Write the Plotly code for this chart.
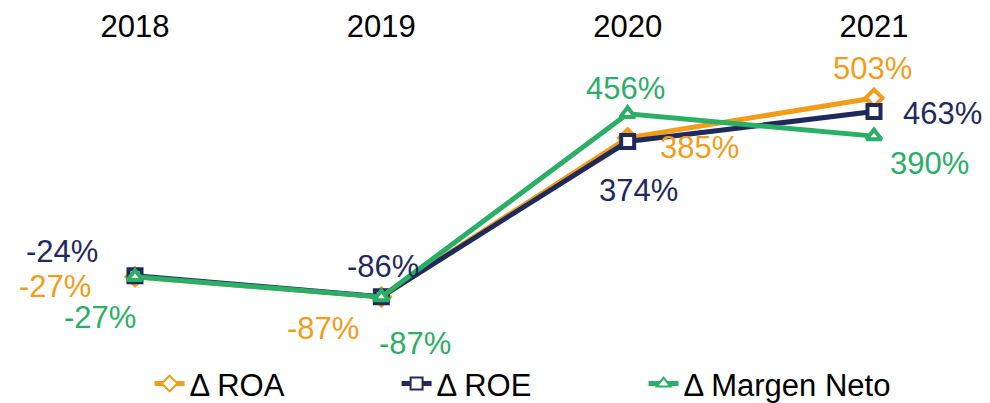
import plotly.graph_objects as go

years = ["2018", "2019", "2020", "2021"]
roa = [-27, -87, 385, 503]
roe = [-24, -86, 374, 463]
margen = [-27, -87, 456, 390]
names = ["Δ ROA", "Δ ROE", "Δ Margen Neto"]
colors = ["#F39C1A", "#1F2A5C", "#2BAE66"]
symbols = ["diamond", "square", "triangle-up"]
series = [roa, roe, margen]

# label offsets in pixels (dx, dy) per series/point
offsets = [
    [(-80, -10), (-58, -31), (72, -10), (-2, 30)],
    [(-73, 24), (2, 30), (11, -49), (68, -2)],
    [(-35, -41), (34, -46), (-2, 25), (55, -27)],
]

fig = go.Figure()
for name, vals, col, sym in zip(names, series, colors, symbols):
    fig.add_trace(go.Scatter(
        x=years, y=vals, name=name, mode="lines+markers",
        line=dict(color=col, width=5),
        marker=dict(symbol=sym, size=13, color="white",
                    line=dict(color=col, width=4)),
    ))

for vals, col, offs in zip(series, colors, offsets):
    for i, (v, (dx, dy)) in enumerate(zip(vals, offs)):
        fig.add_annotation(x=i, y=v, text=f"{v}%", showarrow=False,
                           xshift=dx, yshift=dy,
                           font=dict(family="Liberation Sans, Arial", size=31, color=col))

fig.update_layout(
    width=990, height=403,
    margin=dict(l=0, r=0, t=50, b=40, autoexpand=False),
    plot_bgcolor="white", paper_bgcolor="white",
    font=dict(family="Liberation Sans, Arial", size=31, color="black"),
    xaxis=dict(type="category", side="top", range=[-0.5156, 3.5034], showgrid=False,
               showline=False, zeroline=False, ticks="", ticklabelstandoff=14,
               automargin=False, tickfont=dict(size=31, color="black")),
    yaxis=dict(range=[-306.4, 621.6], visible=False, automargin=False),
    showlegend=True,
    legend=dict(orientation="h", x=0.143, xanchor="left", y=0.045, yanchor="top",
                entrywidth=202, entrywidthmode="pixels",
                font=dict(size=31, color="black"), bgcolor="rgba(0,0,0,0)",
                itemsizing="constant"),
)

fig.write_html("out.html")
